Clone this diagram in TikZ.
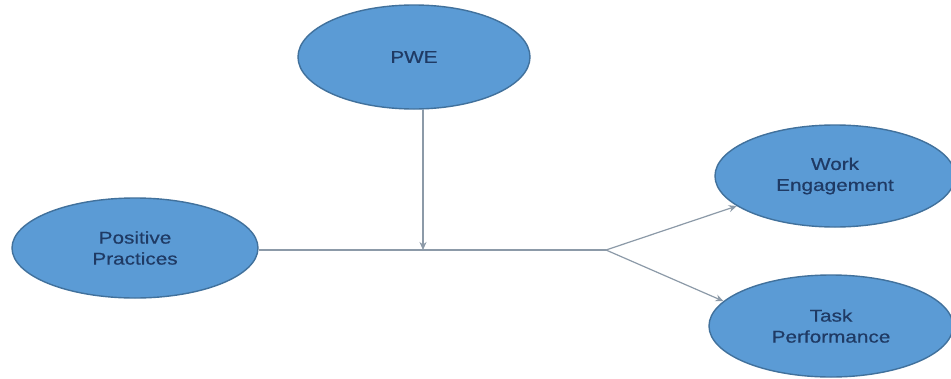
\documentclass[tikz,border=0pt]{standalone}
\usepackage{fontspec}
\usetikzlibrary{shapes.geometric,arrows.meta}
\newfontfamily\labelfont[FakeStretch=1.22,FakeBold=0.6]{Liberation Sans}
\definecolor{bubblefill}{HTML}{5B9BD5}
\definecolor{bubbleedge}{HTML}{41719C}
\definecolor{labeltext}{HTML}{1F3A64}
\definecolor{linkgray}{HTML}{8C9AA8}
\tikzset{
  bubble/.style={ellipse, fill=bubblefill, draw=bubbleedge, line width=1.4pt,
    inner sep=0pt, align=center, text=labeltext,
    font=\labelfont\fontsize{17}{21}\selectfont},
  link/.style={draw=linkgray, line width=1.2pt},
  arr/.style={link, -{Stealth[length=8pt,width=7pt]}}
}
\begin{document}
\begin{tikzpicture}[x=1pt,y=-1pt]
  \useasboundingbox (0,0) rectangle (951,378);
  \fill[white] (0,0) rectangle (951,378);
  % variables
  \node[bubble, minimum width=232pt, minimum height=104pt] (pwe) at (414,57) {PWE};
  \node[bubble, minimum width=246pt, minimum height=100pt] (pp) at (135,248) {Positive\\Practices};
  \node[bubble, minimum width=240pt, minimum height=102pt] (we) at (835,176) {Work\\Engagement};
  \node[bubble, minimum width=244pt, minimum height=102pt] (tp) at (831,326) {Task\\Performance};
  % paths
  \coordinate (split) at (606,250);
  \coordinate (mod) at (423,250);
  \draw[link] (pp.east |- split) -- (split);
  \draw[arr] (mod |- pwe.south) -- (mod);
  \draw[arr] (split) -- (we.197);
  \draw[arr] (split) -- (tp.167);
\end{tikzpicture}
\end{document}
